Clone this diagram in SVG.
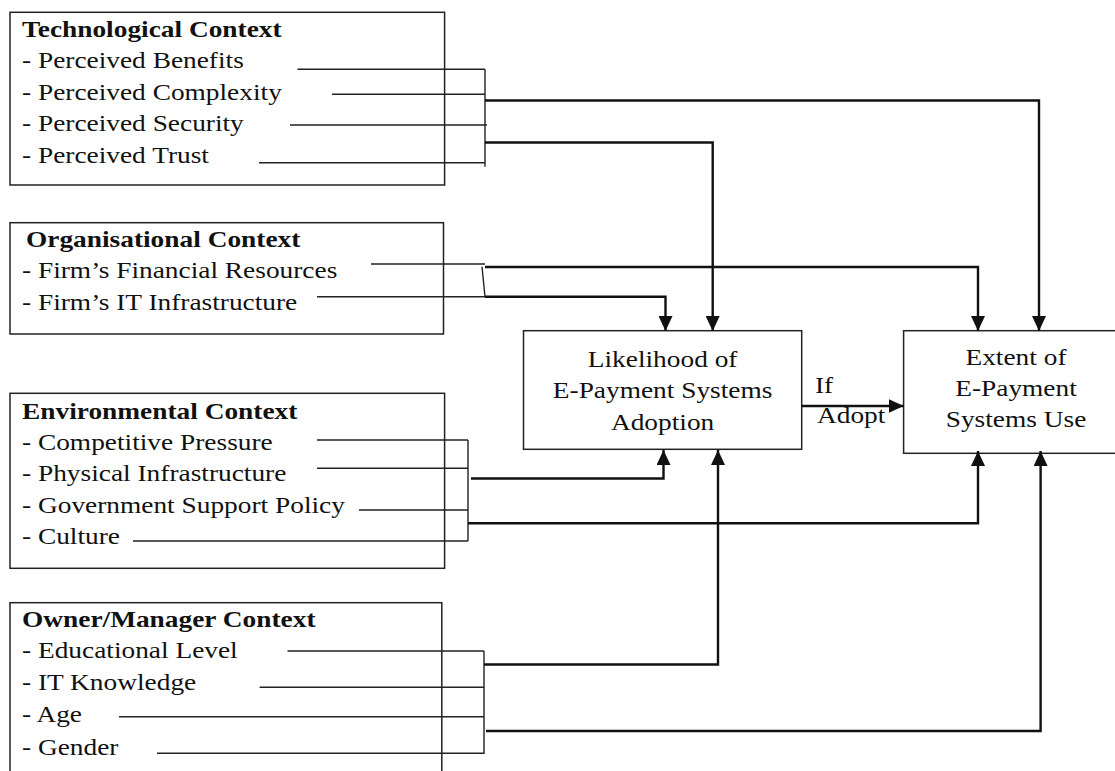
<svg xmlns="http://www.w3.org/2000/svg" width="1115" height="771" viewBox="0 0 1115 771">
<style>
.box{fill:#fff;stroke:#222;stroke-width:1.5}
.t{font-family:"Liberation Serif","Times New Roman",serif;font-size:23px;fill:#111}
.b{font-weight:bold}
.c{text-anchor:middle}
.thin{fill:none;stroke:#222;stroke-width:1.4}
.thick{fill:none;stroke:#111;stroke-width:2.4}
</style>
<defs>
<marker id="ah" markerUnits="userSpaceOnUse" markerWidth="15" markerHeight="14" refX="15" refY="7" orient="auto">
<path d="M0,0 L15,7 L0,14 Z" fill="#111"/>
</marker>
</defs>
<rect width="1115" height="771" fill="#fff"/>

<g id="tech">
<rect class="box" x="10" y="12.3" width="434.6" height="172.7"/>
<text class="t b" transform="translate(22 37) scale(1.19 1)">Technological Context</text>
<text class="t" transform="translate(22 68.3) scale(1.19 1)">- Perceived Benefits</text>
<text class="t" transform="translate(22 100) scale(1.19 1)">- Perceived Complexity</text>
<text class="t" transform="translate(22 131) scale(1.19 1)">- Perceived Security</text>
<text class="t" transform="translate(22 163.3) scale(1.19 1)">- Perceived Trust</text>
</g>

<g id="org">
<rect class="box" x="10" y="222.7" width="433.5" height="111.3"/>
<text class="t b" transform="translate(26 246.7) scale(1.19 1)">Organisational Context</text>
<text class="t" transform="translate(22 278.3) scale(1.19 1)">- Firm’s Financial Resources</text>
<text class="t" transform="translate(22 310) scale(1.19 1)">- Firm’s IT Infrastructure</text>
</g>

<g id="env">
<rect class="box" x="10" y="393.3" width="434.6" height="175"/>
<text class="t b" transform="translate(22 419.3) scale(1.19 1)">Environmental Context</text>
<text class="t" transform="translate(22 450) scale(1.19 1)">- Competitive Pressure</text>
<text class="t" transform="translate(22 481) scale(1.19 1)">- Physical Infrastructure</text>
<text class="t" transform="translate(22 512.7) scale(1.19 1)">- Government Support Policy</text>
<text class="t" transform="translate(22 544.3) scale(1.19 1)">- Culture</text>
</g>

<g id="owner">
<rect class="box" x="10" y="602.7" width="431.8" height="200"/>
<text class="t b" transform="translate(22 627.3) scale(1.19 1)">Owner/Manager Context</text>
<text class="t" transform="translate(22 658.3) scale(1.19 1)">- Educational Level</text>
<text class="t" transform="translate(22 690) scale(1.19 1)">- IT Knowledge</text>
<text class="t" transform="translate(22 721.7) scale(1.19 1)">- Age</text>
<text class="t" transform="translate(22 755) scale(1.19 1)">- Gender</text>
</g>

<g id="likelihood">
<rect class="box" x="523.5" y="330.7" width="278.2" height="118.6"/>
<text class="t c" transform="translate(662.6 367.3) scale(1.19 1)">Likelihood of</text>
<text class="t c" transform="translate(662.6 398.3) scale(1.19 1)">E-Payment Systems</text>
<text class="t c" transform="translate(662.6 430) scale(1.19 1)">Adoption</text>
</g>

<g id="extent">
<rect class="box" x="903.6" y="330.7" width="224" height="122.6"/>
<text class="t c" transform="translate(1016 365) scale(1.19 1)">Extent of</text>
<text class="t c" transform="translate(1016 396) scale(1.19 1)">E-Payment</text>
<text class="t c" transform="translate(1016 427.3) scale(1.19 1)">Systems Use</text>
</g>

<g id="connectors">
<path class="thin" d="M297.5,69.3 H485 M332,94.3 H485 M290,125 H487 M259,162.7 H485 M485,69.3 V166.7"/>
<path class="thick" d="M485,100.5 H1039 V331" marker-end="url(#ah)"/>
<path class="thick" d="M485,142.5 H712.7 V331" marker-end="url(#ah)"/>

<path class="thin" d="M371,264 H485 M317,296.7 H485 M482,266.7 L485,296.7"/>
<path class="thick" d="M485,267 H978 V331" marker-end="url(#ah)"/>
<path class="thick" d="M485,296.7 H665.5 V331" marker-end="url(#ah)"/>

<path class="thin" d="M317,440 H468 M317,468.3 H468 M359,510 H468 M133,541 H468 M468,440 V541"/>
<path class="thick" d="M471,478.5 H663.5 V450" marker-end="url(#ah)"/>
<path class="thick" d="M468,523.3 H978 V451" marker-end="url(#ah)"/>

<path class="thin" d="M287.5,651 H484 M259.6,687.3 H484 M119,716.7 H484 M157,753.3 H484 M484,651 V754"/>
<path class="thick" d="M484,664.5 H718 V450" marker-end="url(#ah)"/>
<path class="thick" d="M486,731 H1040.6 V451" marker-end="url(#ah)"/>

<path class="thick" d="M801.7,406 H903.6" marker-end="url(#ah)"/>
<text class="t" transform="translate(815 393.3) scale(1.19 1)">If</text>
<text class="t" transform="translate(817 423.3) scale(1.19 1)">Adopt</text>
</g>
</svg>
